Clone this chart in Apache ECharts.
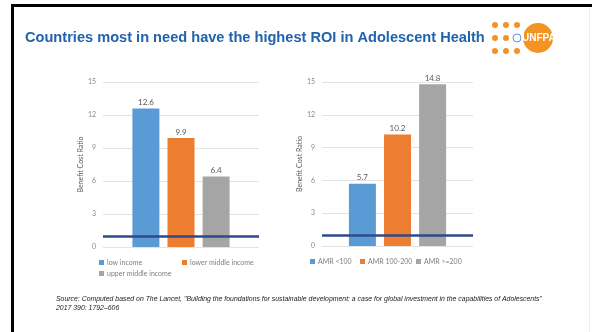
<!DOCTYPE html>
<html>
<head>
<meta charset="utf-8">
<script src="https://cdn.jsdelivr.net/npm/echarts@6/dist/echarts.min.js"></script>
<style>
  html, body { margin: 0; padding: 0; background: #fff; }
  #chart { width: 592px; height: 332px; }
</style>
</head>
<body>
<div id="chart"></div>
<script>
// income groups (left panel)
const incomeGroups = ['low income', 'lower middle income', 'upper middle income'];
const incomeRatios = [12.6, 9.9, 6.4];
// adolescent mortality rate groups (right panel)
const amrGroups = ['AMR <100', 'AMR 100-200', 'AMR >=200'];
const amrRatios = [5.7, 10.2, 14.8];
// y axis
const yMin = 0, yMax = 15, yStep = 3;
const breakEven = 1;

const colors = ['#5b9bd5', '#ed7d31', '#a5a5a5'];
const navy = '#2e4a8a';
const labelGray = '#595959';
const chartFont = 'Lato';

const myChart = echarts.init(document.getElementById('chart'));

function yAxisCfg(gridIndex, nameGap) {
    return {
        gridIndex: gridIndex,
        type: 'value',
        min: yMin, max: yMax, interval: yStep,
        name: 'Benefit Cost Ratio',
        nameLocation: 'middle',
        nameGap: nameGap,
        nameTextStyle: { color: labelGray, fontSize: 7, fontFamily: chartFont },
        axisLine: { show: false },
        axisTick: { show: false },//去掉刻度线
        axisLabel: { color: '#8a8a8a', fontSize: 7, fontFamily: chartFont, margin: 7 },
        splitLine: { lineStyle: { color: '#e3e3e3', width: 1 } },
    };
}

function barSeries(names, values, gridIndex) {
    return names.map((name, i) => {
        const s = {
            name: name,
            type: 'bar',
            xAxisIndex: gridIndex,
            yAxisIndex: gridIndex,
            data: [values[i]],
            barWidth: 27,
            barGap: '30%',
            itemStyle: { color: colors[i] },
            label: {
                show: true,
                position: 'top',
                distance: 2,
                color: labelGray,
                fontSize: 8,
                fontFamily: chartFont,
            },
        };
        if (i === 0) {
            // break-even line at ratio 1
            s.markLine = {
                silent: true,
                symbol: 'none',
                label: { show: false },
                lineStyle: { color: navy, width: 2.5, type: 'solid' },
                data: [{ yAxis: breakEven }],
                z: 10,
            };
        }
        return s;
    });
}

function legendCfg(name, left, top) {
    return {
        data: [name],
        left: left, top: top,
        icon: 'rect',
        itemWidth: 5, itemHeight: 5,
        itemGap: 0,
        padding: 0,
        textStyle: { color: '#808080', fontSize: 7, fontFamily: chartFont, padding: [0, 0, 0, -2] },
        selectedMode: false,
    };
}

const option = {
    animation: false,
    title: {
        text: 'Countries most in need have the highest ROI in Adolescent Health',
        left: 25, top: 30,
        padding: 0,
        textStyle: { color: '#2163ad', fontSize: 14.6, fontWeight: 'bold', fontFamily: 'Liberation Sans' },
    },
    grid: [
        { left: 103, top: 82, width: 156, height: 165 },
        { left: 322, top: 82, width: 151, height: 164 },
    ],
    xAxis: [
        { gridIndex: 0, type: 'category', data: [''], show: false },
        { gridIndex: 1, type: 'category', data: [''], show: false },
    ],
    yAxis: [yAxisCfg(0, 15), yAxisCfg(1, 19)],
    legend: [
        legendCfg(incomeGroups[0], 99, 259),
        legendCfg(incomeGroups[1], 182, 259),
        legendCfg(incomeGroups[2], 99, 270),
        legendCfg(amrGroups[0], 310, 258),
        legendCfg(amrGroups[1], 360, 258),
        legendCfg(amrGroups[2], 416, 258),
    ],
    series: [].concat(barSeries(incomeGroups, incomeRatios, 0), barSeries(amrGroups, amrRatios, 1)),
    graphic: [
        // slide frame
        { type: 'rect', shape: { x: 11, y: 4, width: 581, height: 3 }, style: { fill: '#000' } },
        { type: 'rect', shape: { x: 11, y: 4, width: 3, height: 328 }, style: { fill: '#000' } },
        { type: 'rect', shape: { x: 589, y: 8, width: 1, height: 324 }, style: { fill: '#eeeeee' } },
        // UNFPA logo dots
        { type: 'group', children: [
            { type: 'circle', shape: { cx: 495, cy: 25, r: 3 }, style: { fill: '#f39321' } },
            { type: 'circle', shape: { cx: 506, cy: 25, r: 3 }, style: { fill: '#f39321' } },
            { type: 'circle', shape: { cx: 517, cy: 25, r: 3 }, style: { fill: '#f39321' } },
            { type: 'circle', shape: { cx: 495, cy: 38, r: 3 }, style: { fill: '#f39321' } },
            { type: 'circle', shape: { cx: 506, cy: 38, r: 3 }, style: { fill: '#f39321' } },
            { type: 'circle', shape: { cx: 517, cy: 38, r: 4 }, style: { fill: '#fff', stroke: '#5b92e5', lineWidth: 1 } },
            { type: 'circle', shape: { cx: 495, cy: 51, r: 3 }, style: { fill: '#f39321' } },
            { type: 'circle', shape: { cx: 506, cy: 51, r: 3 }, style: { fill: '#f39321' } },
            { type: 'circle', shape: { cx: 517, cy: 51, r: 3 }, style: { fill: '#f39321' } },
            { type: 'circle', shape: { cx: 538, cy: 38, r: 15 }, style: { fill: '#f39321' } },
            { type: 'text', left: 522, top: 33, style: { text: 'UNFPA', fill: '#fff', font: 'bold 10px "Liberation Sans Narrow", "Liberation Sans"' } },
        ] },
        // source note
        { type: 'text', left: 56, top: 295, style: {
            text: 'Source: Computed based on The Lancet, "Building the foundations for sustainable development: a case for global investment in the capabilities of Adolescents"\n2017 390: 1792\u2013606',
            fill: '#222', font: 'italic 6.9px "Liberation Sans"', lineHeight: 9,
        } },
    ],
};

myChart.setOption(option);
</script>
</body>
</html>
